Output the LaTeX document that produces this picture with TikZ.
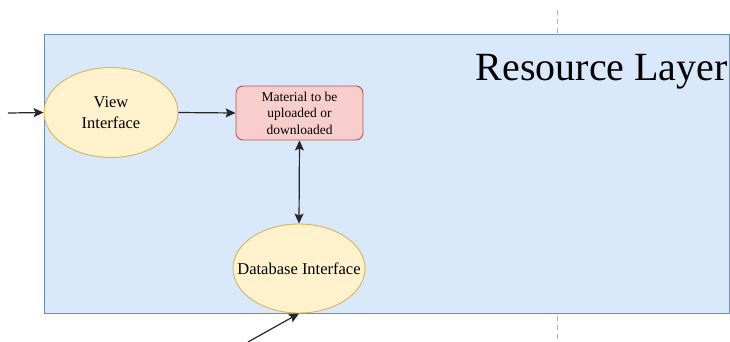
\documentclass[tikz,border=0pt]{standalone}
\usepackage{fontspec}
\setmainfont{Liberation Serif}
\usetikzlibrary{arrows.meta,shapes.geometric}
\definecolor{layerfill}{HTML}{DAE8FC}
\definecolor{layerdraw}{HTML}{6C8EBF}
\definecolor{ifacefill}{HTML}{FFF2CC}
\definecolor{ifacedraw}{HTML}{D6B656}
\definecolor{datafill}{HTML}{F8CECC}
\definecolor{datadraw}{HTML}{B85450}
\tikzset{
  iface/.style={ellipse, draw=ifacedraw, fill=ifacefill, line width=0.9pt,
    minimum width=134pt, minimum height=90pt, inner sep=0pt},
  ifacetext/.style={inner sep=0pt, align=center,
    font=\fontsize{16.5}{21}\selectfont},
  material/.style={rectangle, rounded corners=7pt, draw=datadraw, fill=datafill,
    line width=0.9pt, minimum width=127pt, minimum height=54pt, inner sep=0pt,
    align=center, font=\fontsize{13.5}{16.5}\selectfont},
  flow/.style={line width=1.2pt, draw=black!85, -{Stealth[length=10pt,width=9pt,inset=2pt]}},
  bothflow/.style={line width=1.2pt, draw=black!85,
    {Stealth[length=10pt,width=9pt,inset=2pt]}-{Stealth[length=10pt,width=9pt,inset=2pt]}},
}
\begin{document}
\begin{tikzpicture}[x=1pt,y=-1pt]
  \useasboundingbox (0,0) rectangle (730,341);
  % page divider behind the layer
  \draw[black!30, dashed, line width=0.8pt, dash pattern=on 5pt off 4pt]
    (557,10) -- (557,341);
  % resource layer container
  \node[draw=layerdraw, fill=layerfill, line width=0.9pt, rectangle,
    inner sep=0pt, minimum width=685pt, minimum height=279pt, anchor=north west]
    (layer) at (44,34) {};
  \node[anchor=base east, inner sep=0pt, font=\fontsize{40}{48}\selectfont]
    (title) at (728,80) {Resource Layer};
  % components
  \node[iface, label={[ifacetext]center:View\\Interface}] (view) at (111,112.5) {};
  \node[material] (mat) at (299.5,113) {Material to be\\uploaded or\\downloaded};
  \node[iface, minimum width=132pt, minimum height=89pt,
    label={[ifacetext]center:Database Interface}] (db) at (299,268.5) {};
  % external ends
  \coordinate (inleft) at (8,113);
  \coordinate (inbottom) at (248,342);
  % connectors
  \draw[flow] (inleft) -- (view.west);
  \draw[flow] (view.east) -- (mat.west);
  \draw[bothflow] (mat.south) -- (db.north);
  \draw[flow] (inbottom) -- (db.south);
\end{tikzpicture}
\end{document}
